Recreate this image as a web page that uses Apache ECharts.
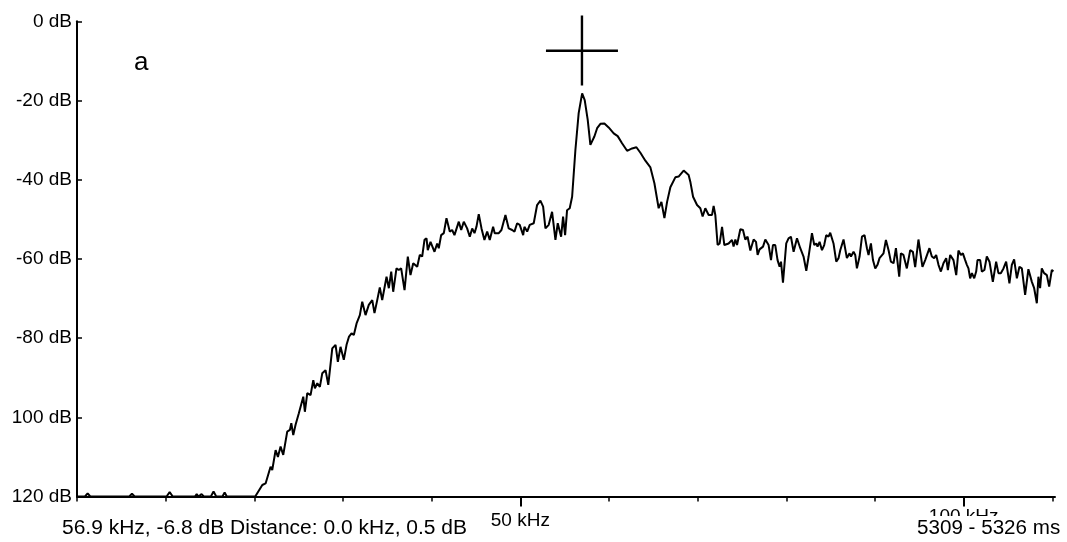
<!DOCTYPE html>
<html>
<head>
<meta charset="utf-8">
<script src="https://cdn.jsdelivr.net/npm/echarts@6/dist/echarts.min.js"></script>
<style>
html,body{margin:0;padding:0;background:#fff;}
#chart{width:1067px;height:542px;}
</style>
</head>
<body>
<div id="chart"></div>
<script>
// Frequency (kHz) of each sample of the spectrum
const freqKHz = [
0,0.9,1.2,1.5,5.9,6.2,6.5,10.1,10.45,10.8,13.3,13.5,13.7,14.05,14.3,15.1,15.4,15.7,16.4,16.65,16.9,17.6,17.8,18.0,20.1,
20.90,21.27,21.46,21.83,22.02,22.40,22.66,22.96,23.26,23.71,24.01,24.17,24.39,24.65,25.02,25.21,25.52,25.70,25.97,26.34,
26.65,26.83,27.10,27.39,27.66,28.03,28.34,28.79,29.16,29.42,29.72,30.09,30.40,30.68,30.96,31.22,31.53,31.90,32.17,32.54,
32.91,33.30,33.55,33.86,34.15,34.42,34.91,35.17,35.44,35.66,36.03,36.29,36.56,36.94,37.31,37.61,37.92,38.37,38.66,38.93,
39.19,39.42,39.56,39.87,40.32,40.62,40.80,41.07,41.37,41.67,42.04,42.31,42.57,43.06,43.33,43.62,44.00,44.30,44.57,44.83,
45.05,45.31,45.62,45.95,46.26,46.55,46.93,47.11,47.31,47.57,47.87,48.32,48.69,49.08,49.34,49.64,49.93,50.32,50.46,50.77,
51.06,51.51,51.89,52.26,52.57,52.83,53.20,53.58,53.96,54.22,54.44,54.60,54.82,55.05,55.27,55.57,55.84,56.21,56.58,56.97,
57.26,57.60,57.90,58.09,58.35,58.66,59.03,59.48,59.96,60.53,60.98,61.47,62.04,62.60,63.09,63.54,64.10,64.67,65.12,65.60,
65.91,66.25,66.55,66.92,67.48,67.85,68.42,68.98,69.17,69.48,69.93,70.30,70.56,70.86,71.24,71.62,71.80,71.99,72.25,72.48,
72.75,73.01,73.49,73.87,74.05,74.25,74.44,74.81,75.11,75.37,75.63,75.94,76.31,76.58,76.76,76.98,77.37,77.63,78.00,78.27,
78.49,78.75,79.01,79.24,79.40,79.62,79.99,80.25,80.52,80.82,81.20,81.57,81.94,82.25,82.51,82.70,82.89,83.15,83.38,83.52,
83.75,84.02,84.27,84.50,84.76,84.95,85.32,85.63,85.89,86.08,86.27,86.45,86.83,87.13,87.29,87.58,87.77,87.96,88.26,88.53,
88.82,89.09,89.27,89.54,89.77,90.03,90.28,90.51,90.96,91.23,91.53,91.79,92.09,92.36,92.73,92.92,93.21,93.59,93.97,94.27,
94.53,94.90,95.09,95.35,95.66,96.14,96.41,96.67,96.90,97.16,97.43,97.72,98.03,98.22,98.48,98.67,98.85,99.16,99.41,99.68,
99.91,100.17,100.36,100.54,100.73,100.93,101.19,101.41,101.56,101.86,102.05,102.34,102.61,102.91,103.29,103.66,103.92,104.19,104.49,104.79,
105.16,105.43,105.69,106.00,106.29,106.56,106.93,107.30,107.69,107.95,108.25,108.43,108.62,108.81,109.07,109.38,109.64,109.94,110.12
];
// Level (dB) of each sample
const levelDB = [
-120,-120,-119.2,-120,-120,-119.3,-120,-120,-118.9,-120,-120,-119.4,-120,-119.4,-120,-120,-118.7,-120,-120,-119,-120,-120,-119.5,-120,-120,
-117.1,-116.7,-117.1,-112.5,-113.3,-108.3,-110.0,-107.4,-109.5,-103.6,-103.2,-101.5,-104.5,-101.9,-99.0,-99.4,-94.8,-98.6,-93.9,-94.4,
-90.6,-92.7,-91.4,-92.3,-88.9,-88.1,-91.8,-82.6,-81.7,-86.0,-82.2,-85.5,-81.7,-79.6,-78.8,-79.2,-76.3,-74.2,-70.8,-74.2,
-71.6,-70.4,-73.7,-70.4,-67.2,-70.4,-64.5,-67.4,-63.2,-68.3,-62.4,-62.8,-62.4,-67.9,-59.4,-64.1,-61.1,-62.0,-59.0,-59.4,
-55.2,-54.8,-57.8,-55.7,-58.2,-56.1,-57.3,-54.0,-53.5,-49.7,-53.1,-52.7,-54.0,-50.6,-52.7,-50.6,-52.3,-54.4,-52.3,-53.5,
-51.9,-48.7,-52.3,-55.2,-53.1,-55.2,-51.9,-53.5,-53.1,-53.5,-52.7,-48.9,-52.3,-52.7,-53.1,-51.0,-51.4,-54.0,-51.9,-53.1,
-51.4,-51.0,-46.4,-45.3,-46.8,-52.3,-51.4,-48.1,-55.2,-51.0,-50.6,-54.4,-49.3,-54.0,-47.7,-47.2,-44.3,-32.5,-23.2,-18.2,
-19.9,-24.9,-31.2,-31.2,-29.1,-27.0,-25.9,-25.8,-26.8,-28.3,-29.0,-30.8,-32.7,-32.1,-31.8,-33.2,-35.2,-36.9,-40.9,-47.2,
-45.6,-49.7,-45.6,-41.9,-39.4,-39.2,-37.7,-38.8,-40.5,-44.3,-46.4,-47.2,-49.3,-47.2,-48.9,-48.9,-46.6,-48.9,-56.5,-56.1,
-51.9,-56.5,-56.1,-55.2,-56.9,-55.1,-56.5,-52.5,-52.7,-55.1,-54.4,-57.9,-55.1,-55.7,-59.0,-57.6,-56.9,-55.1,-56.5,-60.3,
-56.5,-56.5,-60.3,-62.0,-60.7,-66.0,-56.1,-54.8,-54.4,-58.2,-54.8,-57.3,-59.4,-63.0,-59.4,-59.8,-53.5,-56.5,-56.1,-56.9,
-55.7,-57.8,-56.5,-54.0,-54.4,-53.4,-56.1,-60.7,-59.8,-57.8,-58.2,-55.1,-59.8,-58.6,-59.4,-58.2,-59.0,-62.4,-59.4,-54.4,
-54.0,-57.3,-59.0,-56.1,-60.3,-62.4,-61.5,-59.8,-58.6,-55.2,-57.8,-60.7,-61.1,-57.3,-64.5,-58.6,-59.0,-62.4,-57.8,-58.2,
-62.1,-55.1,-55.2,-62.0,-60.3,-57.3,-59.4,-59.8,-59.0,-61.5,-63.2,-61.1,-59.8,-62.8,-59.0,-58.6,-60.3,-64.1,-57.9,-59.0,
-58.6,-60.3,-61.5,-62.4,-64.9,-63.6,-64.9,-63.2,-60.3,-60.3,-63.2,-62.8,-59.4,-60.7,-65.8,-60.7,-63.6,-63.6,-62.4,-60.7,
-66.2,-61.5,-60.1,-64.9,-62.0,-62.4,-69.1,-62.6,-65.8,-67.4,-71.2,-64.5,-67.4,-62.4,-63.6,-64.1,-67.0,-62.8,-63.2
];
// Cursor cross position [kHz, dB]
const cursorPoint = [56.95, -7.4];
// Axis ticks and labels
const yTickValues = [0, -20, -40, -60, -80, -100, -120];
const yTickLabels = ['0 dB', '-20 dB', '-40 dB', '-60 dB', '-80 dB', '100 dB', '120 dB'];
const xMinorTicks = [0, 10, 20, 30, 40, 50, 60, 70, 80, 90, 100, 110];
const xMajorTicks = [50, 100];
const xMajorLabels = ['50 kHz', '100 kHz'];
const panelLabel = 'a';
const cursorText = '56.9 kHz, -6.8 dB Distance: 0.0 kHz, 0.5 dB';
const timeText = '5309 - 5326 ms';

const FONT = "'Liberation Sans', Arial, sans-serif";
const lineData = freqKHz.map((f, i) => [f, levelDB[i]]);

const chart = echarts.init(document.getElementById('chart'), null, {renderer: 'canvas'});
chart.setOption({
  animation: false,
  backgroundColor: '#ffffff',
  grid: {left: 77, right: 12, top: 21.3, bottom: 45.5, containLabel: false},
  xAxis: [
    {
      type: 'value', min: 0, max: 110.3, position: 'bottom',
      splitLine: {show: false},
      axisLine: {show: true, onZero: false, lineStyle: {color: '#000', width: 2}},
      axisTick: {show: true, inside: false, length: 5, customValues: xMinorTicks, lineStyle: {color: '#000', width: 1.5}},
      axisLabel: {show: false}
    },
    {
      type: 'value', min: 0, max: 110.3, position: 'bottom',
      splitLine: {show: false},
      axisLine: {show: false, onZero: false},
      axisTick: {show: true, inside: false, length: 10, customValues: xMajorTicks, lineStyle: {color: '#000', width: 2}},
      axisLabel: {
        show: true, customValues: xMajorTicks, margin: 8,
        color: '#000', fontSize: 19, fontFamily: FONT,
        formatter: v => {
          const i = xMajorTicks.indexOf(v);
          return i === 0 ? '{lo|' + xMajorLabels[i] + '}' : '{hi|' + xMajorLabels[i] + '}';
        },
        rich: {
          lo: {fontSize: 19, fontFamily: FONT, color: '#000', padding: [7, 0, 0, 0]},
          hi: {fontSize: 19, fontFamily: FONT, color: '#000', padding: [3, 0, 0, 0]}
        }
      }
    }
  ],
  yAxis: {
    type: 'value', min: -120, max: 0, interval: 20,
    splitLine: {show: false},
    axisLine: {show: true, onZero: false, lineStyle: {color: '#000', width: 2}},
    axisTick: {show: true, inside: true, length: 5, lineStyle: {color: '#000', width: 1.5}},
    axisLabel: {
      color: '#000', fontSize: 19, fontFamily: FONT, margin: 5,
      padding: [0, 0, 5, 0],
      formatter: v => {
        const i = yTickValues.indexOf(v);
        return i >= 0 ? yTickLabels[i] : '';
      }
    }
  },
  series: [
    {
      type: 'line', xAxisIndex: 0, data: lineData,
      showSymbol: false, symbol: 'none',
      lineStyle: {color: '#000', width: 2},
      z: 3
    },
    {
      type: 'scatter', xAxisIndex: 0, data: [cursorPoint],
      symbol: 'path://M0,34L72,34L72,36.4L0,36.4Z M34.8,0L37.2,0L37.2,70L34.8,70Z',
      symbolSize: [72, 70], symbolKeepAspect: false,
      itemStyle: {color: '#000', opacity: 1},
      z: 4
    }
  ],
  graphic: [
    {
      type: 'text', left: 134, top: 50, z: 100,
      style: {text: panelLabel, fontSize: 26, fontFamily: FONT, fill: '#000'}
    },
    {
      type: 'text', x: 62, y: 518, z: 100, scaleX: 1.05,
      style: {text: cursorText, fontSize: 20, fontFamily: FONT, fill: '#000'}
    },
    {
      type: 'text', x: 915, y: 516, z: 100, scaleX: 1.03,
      style: {text: timeText, fontSize: 20, fontFamily: FONT, fill: '#000',
              backgroundColor: '#fff', padding: [2, 2, 2, 2]}
    }
  ]
});
</script>
</body>
</html>
